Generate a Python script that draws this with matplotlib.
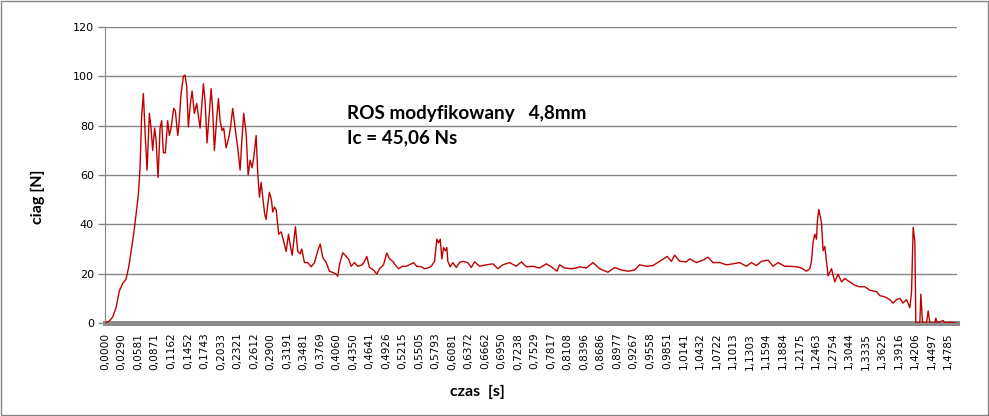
import matplotlib
matplotlib.use("Agg")
import matplotlib.pyplot as plt
from matplotlib.patches import Rectangle

# time [s] and thrust [N]
czas = [
    0.0, 0.0075, 0.0133, 0.0193, 0.0251, 0.0309, 0.0368, 0.0414, 0.0456, 0.0502,
    0.0544, 0.0584, 0.0614, 0.0642, 0.0672, 0.0707, 0.0737, 0.0777, 0.0807, 0.0835,
    0.0870, 0.0895, 0.0930, 0.0965, 0.0993, 0.1023, 0.1058, 0.1098, 0.1128, 0.1158,
    0.1203, 0.1233, 0.1274, 0.1291, 0.1333, 0.1374, 0.1403, 0.1432, 0.1461, 0.1496,
    0.1526, 0.1567, 0.1607, 0.1667, 0.1724, 0.1754, 0.1789, 0.1830, 0.1860, 0.1888,
    0.1917, 0.1958, 0.1988, 0.2017, 0.2053, 0.2081, 0.2123, 0.2168, 0.2198, 0.2238,
    0.2281, 0.2326, 0.2368, 0.2396, 0.2431, 0.2474, 0.2509, 0.2544, 0.2579, 0.2607,
    0.2649, 0.2677, 0.2707, 0.2737, 0.2765, 0.2800, 0.2824, 0.2853, 0.2882, 0.2917,
    0.2940, 0.2970, 0.3000, 0.3045, 0.3088, 0.3133, 0.3175, 0.3216, 0.3251, 0.3281,
    0.3338, 0.3379, 0.3421, 0.3449, 0.3496, 0.3554, 0.3614, 0.3672, 0.3730, 0.3772,
    0.3817, 0.3877, 0.3935, 0.3993, 0.4052, 0.4081, 0.4110, 0.4168, 0.4228, 0.4268,
    0.4316, 0.4373, 0.4431, 0.4509, 0.4549, 0.4589, 0.4637, 0.4707, 0.4765, 0.4812,
    0.4882, 0.4940, 0.4988, 0.5045, 0.5105, 0.5151, 0.5210, 0.5280, 0.5338, 0.5409,
    0.5466, 0.5544, 0.5601, 0.5659, 0.5719, 0.5777, 0.5817, 0.5847, 0.5877, 0.5905,
    0.5935, 0.5965, 0.5993, 0.6010, 0.6052, 0.6098, 0.6158, 0.6215, 0.6273, 0.6361,
    0.6421, 0.6479, 0.6566, 0.6684, 0.6800, 0.6887, 0.6975, 0.7093, 0.7210, 0.7298,
    0.7386, 0.7501, 0.7619, 0.7736, 0.7824, 0.7922, 0.7970, 0.8058, 0.8175, 0.8263,
    0.8321, 0.8438, 0.8554, 0.8672, 0.8817, 0.8935, 0.9052, 0.9168, 0.9286, 0.9373,
    0.9491, 0.9607, 0.9724, 0.9859, 0.9929, 0.9987, 1.0075, 1.0192, 1.0250, 1.0368,
    1.0484, 1.0571, 1.0659, 1.0777, 1.0894, 1.1010, 1.1127, 1.1245, 1.1333, 1.1420,
    1.1508, 1.1624, 1.1712, 1.1800, 1.1917, 1.2005, 1.2122, 1.2210, 1.2298, 1.2356,
    1.2385, 1.2413, 1.2443, 1.2473, 1.2490, 1.2514, 1.2536, 1.2561, 1.2589, 1.2619,
    1.2648, 1.2677, 1.2736, 1.2794, 1.2852, 1.2912, 1.2970, 1.3057, 1.3145, 1.3233,
    1.3320, 1.3408, 1.3526, 1.3584, 1.3671, 1.3759, 1.3817, 1.3877, 1.3934, 1.3992,
    1.4052, 1.4110, 1.4140, 1.4168, 1.4198, 1.4215, 1.4285, 1.4303, 1.4333, 1.4403,
    1.4431, 1.4461, 1.4548, 1.4566, 1.4589, 1.4694, 1.4724, 1.4812, 1.4929,
]
ciag = [
    0.0, 0.8, 2.4, 6.2, 13.0, 16.0, 17.8, 22.5, 29.0, 36.0,
    44.0, 52.0, 63.0, 84.0, 93.0, 75.0, 62.0, 85.0, 79.0, 70.0,
    79.0, 74.0, 59.0, 79.0, 82.0, 69.0, 69.0, 82.0, 76.0, 79.0,
    87.0, 86.0, 76.0, 79.0, 93.0, 100.0, 100.5, 96.0, 79.5, 89.0,
    94.0, 85.0, 89.0, 79.0, 97.0, 90.0, 73.0, 86.0, 95.0, 86.0,
    70.0, 83.0, 91.0, 82.0, 78.0, 79.0, 71.0, 75.0, 79.0, 87.0,
    79.0, 71.0, 62.0, 73.0, 85.0, 77.0, 60.0, 66.0, 63.0, 67.0,
    76.0, 61.0, 51.0, 57.0, 51.0, 44.0, 42.0, 48.0, 53.0, 50.0,
    45.0, 47.0, 46.0, 36.0, 37.0, 33.0, 29.0, 36.0, 31.0, 27.5,
    39.0, 29.0, 28.0, 30.0, 24.5, 24.5, 22.8, 24.5, 29.3, 32.0,
    26.6, 24.5, 21.0, 20.5, 19.8, 19.0, 23.6, 28.5, 27.0, 26.0,
    23.0, 24.5, 23.0, 23.6, 25.0, 27.0, 22.5, 21.5, 19.8, 22.0,
    23.6, 28.4, 26.0, 25.0, 23.0, 22.0, 23.0, 23.0, 23.6, 24.5,
    23.0, 22.8, 22.0, 22.3, 23.0, 25.0, 34.0, 32.5, 34.0, 26.0,
    30.6, 29.3, 30.6, 25.0, 22.8, 24.5, 22.5, 24.5, 25.0, 24.5,
    22.5, 24.8, 23.0, 23.6, 24.0, 22.0, 23.6, 24.5, 23.0, 24.8,
    22.8, 23.0, 22.3, 24.0, 22.8, 21.0, 23.6, 22.3, 22.0, 22.3,
    22.8, 22.3, 24.5, 22.0, 20.6, 22.5, 21.5, 21.0, 21.5, 23.6,
    23.0, 23.3, 25.0, 27.0, 25.0, 27.5, 25.0, 24.8, 26.0, 24.5,
    25.5, 26.7, 24.5, 24.5, 23.6, 24.0, 24.5, 23.0, 24.5, 23.3,
    25.0, 25.5, 23.0, 24.5, 23.0, 23.0, 22.8, 22.3, 21.0, 22.0,
    25.0, 32.7, 36.0, 34.0, 41.5, 46.0, 43.6, 40.5, 29.3, 31.0,
    25.0, 19.1, 22.0, 16.7, 19.8, 16.7, 18.0, 16.7, 15.3, 14.7,
    14.7, 13.3, 12.7, 11.1, 10.6, 9.5, 8.1, 9.5, 10.0, 8.1,
    9.5, 6.2, 12.5, 38.8, 33.0, 0.0, 0.0, 11.7, 0.0, 0.0,
    4.9, 0.0, 0.0, 2.0, 0.0, 1.0, 0.0, 0.3, 0.0,
]

x_labels = [
    "0,0000", "0,0290", "0,0581", "0,0871", "0,1162", "0,1452", "0,1743", "0,2033",
    "0,2321", "0,2612", "0,2900", "0,3191", "0,3481", "0,3769", "0,4060", "0,4350",
    "0,4641", "0,4926", "0,5215", "0,5505", "0,5793", "0,6081", "0,6372", "0,6662",
    "0,6950", "0,7238", "0,7529", "0,7817", "0,8108", "0,8396", "0,8686", "0,8977",
    "0,9267", "0,9558", "0,9851", "1,0141", "1,0432", "1,0722", "1,1013", "1,1303",
    "1,1594", "1,1884", "1,2175", "1,2463", "1,2754", "1,3044", "1,3335", "1,3625",
    "1,3916", "1,4206", "1,4497", "1,4785",
]
y_ticks = [0, 20, 40, 60, 80, 100, 120]

grey = "#868686"

fig = plt.figure(figsize=(9.89, 4.16), dpi=100)
fig.patches.append(Rectangle((0.0015, 0.0025), 0.997, 0.995, transform=fig.transFigure,
                             fill=False, edgecolor=grey, linewidth=1))
ax = fig.add_axes([0.1062, 0.2235, 0.8614, 0.7116])

ax.plot(czas, ciag, color="#c00000", linewidth=1.0, zorder=3)

ax.set_xlim(0, 1.4936)
ax.set_ylim(0, 120)
ax.set_yticks(y_ticks)
ax.set_yticklabels([str(v) for v in y_ticks], fontsize=8, family="DejaVu Sans")
ax.set_xticks([float(s.replace(",", ".")) for s in x_labels])
ax.set_xticklabels(x_labels, rotation=90, fontsize=7.6, family="DejaVu Sans")
ax.tick_params(axis="x", length=0, pad=7)
ax.tick_params(axis="y", length=5, color=grey, width=1, pad=3)

ax.grid(axis="y", color=grey, linewidth=1)
ax.set_axisbelow(True)
for side in ("top", "right"):
    ax.spines[side].set_visible(False)
ax.spines["left"].set_color(grey)
ax.spines["bottom"].set_color("#8c8c8c")
ax.spines["bottom"].set_linewidth(3.6)

ax.text(0.425, 85, "ROS modyfikowany   4,8mm", fontsize=13.6, fontweight="bold",
        family="Lato", va="center")
ax.text(0.425, 75, "Ic = 45,06 Ns", fontsize=13.6, fontweight="bold",
        family="Lato", va="center")

fig.text(0.038, 0.527, "ciag [N]", rotation=90, fontsize=11.5, fontweight="bold",
         family="Lato", ha="center", va="center")
fig.text(0.483, 0.057, "czas  [s]", fontsize=11.5, fontweight="bold",
         family="Lato", ha="center", va="center")

fig.savefig("out.png", dpi=100)
